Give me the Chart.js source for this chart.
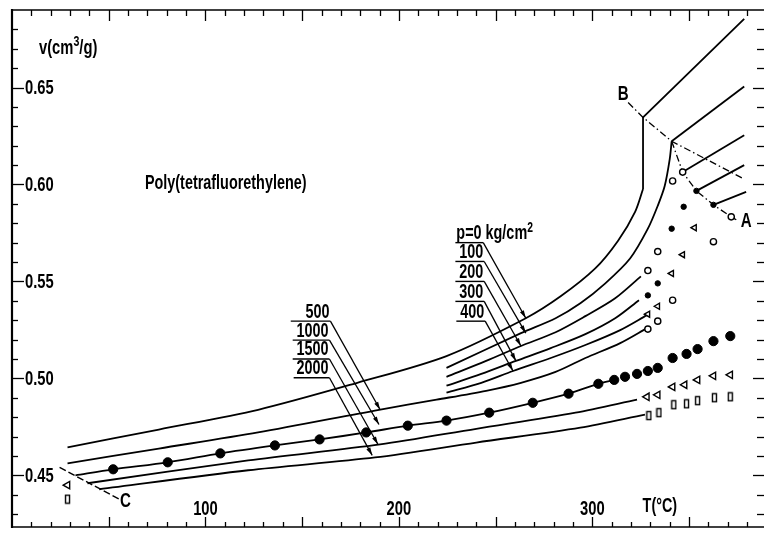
<!DOCTYPE html>
<html><head><meta charset="utf-8">
<script src="https://cdn.jsdelivr.net/npm/chart.js@4/dist/chart.umd.min.js"></script>
<style>html,body{margin:0;padding:0;background:#fff;}canvas{display:block;}</style>
</head><body>
<canvas id="c" width="768" height="533"></canvas>
<script>
// ---------------- DATA (T in °C, v in cm3/g) ----------------
const xTickLabels = ['100', '200', '300'];
const xTickValues = [100, 200, 300];
const yTickLabels = ['0.45', '0.50', '0.55', '0.60', '0.65'];
const yTickValues = [0.45, 0.50, 0.55, 0.60, 0.65];

// p = 0 kg/cm2 (solid state curve)
const p0T = [28.7, 75.9, 127.2, 178.5, 224.6, 265.6, 283.6, 301.5, 313.3, 322.1, 326.2];
const p0V = [0.4644, 0.4736, 0.4838, 0.4977, 0.5115, 0.5310, 0.5423, 0.5567, 0.5710, 0.5859, 0.5977];
const p0MeltT = [326.2, 326.2, 378.5];
const p0MeltV = [0.5977, 0.6346, 0.6854];

const p100T = [224.6, 263.1, 281.0, 293.8, 306.7, 319.5, 328.7, 333.8, 337.4, 340.0, 341.0];
const p100V = [0.5054, 0.5233, 0.5310, 0.5387, 0.5490, 0.5618, 0.5772, 0.5890, 0.5992, 0.6131, 0.6223];
const p100MeltT = [341.0, 378.5];
const p100MeltV = [0.6223, 0.6505];

const p200T = [224.6, 245.1, 263.1, 281.0, 296.4, 311.8, 325.1];
const p200V = [0.5008, 0.5090, 0.5167, 0.5238, 0.5321, 0.5413, 0.5526];
const p200MeltT = [346.7, 378.5];
const p200MeltV = [0.6064, 0.6254];

const p300T = [224.6, 242.6, 260.5, 278.5, 296.4, 311.8, 324.1];
const p300V = [0.4962, 0.5023, 0.5090, 0.5156, 0.5228, 0.5310, 0.5403];
const p300MeltT = [353.8, 378.5];
const p300MeltV = [0.5967, 0.6100];

const p400T = [224.6, 242.6, 259.0, 278.5, 296.4, 314.4, 328.2];
const p400V = [0.4926, 0.4977, 0.5038, 0.5105, 0.5172, 0.5249, 0.5326];
const p400MeltT = [362.6, 379.5];
const p400MeltV = [0.5895, 0.5962];

const p500T = [28.7, 75.9, 127.2, 189.7, 219.5, 245.1, 263.1, 281.0, 296.4, 314.4, 328.2];
const p500V = [0.4562, 0.4638, 0.4721, 0.4838, 0.4890, 0.4936, 0.4977, 0.5033, 0.5105, 0.5182, 0.5259];

const p1000LineT = [32.8, 52.3, 80.5, 107.7, 135.9, 159.0, 183.1, 204.6, 224.6, 246.7, 269.2, 287.7, 303.1, 311.3];
const p1000LineV = [0.4500, 0.4531, 0.4567, 0.4613, 0.4654, 0.4685, 0.4721, 0.4756, 0.4782, 0.4823, 0.4874, 0.4921, 0.4972, 0.4992];
const p1000DotT = [52.3, 80.5, 107.7, 135.9, 159.0, 183.1, 204.6, 224.6, 246.7, 269.2, 287.7, 303.1, 311.3, 316.9, 323.1, 328.7, 333.8, 341.5, 348.7, 354.4, 362.6, 371.3];
const p1000DotV = [0.4531, 0.4567, 0.4613, 0.4654, 0.4685, 0.4721, 0.4756, 0.4782, 0.4823, 0.4874, 0.4921, 0.4972, 0.4992, 0.5008, 0.5023, 0.5038, 0.5054, 0.5105, 0.5126, 0.5151, 0.5192, 0.5218];

const p1500T = [39.0, 122.1, 190.3, 240.0, 291.3, 323.1];
const p1500V = [0.4459, 0.4577, 0.4659, 0.4740, 0.4823, 0.4890];
const p1500PtT = [28.7, 328.2, 333.8, 341.5, 347.7, 354.4, 362.6, 371.3];
const p1500PtV = [0.4449, 0.4905, 0.4915, 0.4956, 0.4967, 0.4992, 0.5013, 0.5018];

const p2000T = [45.1, 122.1, 187.7, 240.0, 293.8, 327.2];
const p2000V = [0.4428, 0.4526, 0.4592, 0.4669, 0.4746, 0.4813];
const p2000PtT = [28.7, 329.2, 334.4, 342.1, 348.7, 354.4, 363.1, 371.3];
const p2000PtV = [0.4377, 0.4808, 0.4823, 0.4864, 0.4869, 0.4885, 0.4900, 0.4905];

// points near the melting region
const openCircT = [341.5, 333.8, 328.7, 341.5, 333.8, 328.7, 362.6, 346.7, 371.8];
const openCircV = [0.6018, 0.5654, 0.5556, 0.5403, 0.5295, 0.5254, 0.5705, 0.6064, 0.5833];
const smallDotT = [328.7, 333.8, 341.0, 347.2, 353.8, 362.6];
const smallDotV = [0.5428, 0.5490, 0.5772, 0.5885, 0.5967, 0.5895];
const smallTriT = [328.7, 333.8, 341.0, 346.7, 352.8];
const smallTriV = [0.5331, 0.5372, 0.5541, 0.5638, 0.5777];

// boundary lines A, B, C
const lineBT = [318.5, 326.2, 341.0, 378.5];
const lineBV = [0.6423, 0.6346, 0.6223, 0.6028];
const lineAT = [341.0, 346.7, 353.8, 362.6, 371.8, 374.4];
const lineAV = [0.6223, 0.6064, 0.5967, 0.5895, 0.5833, 0.5818];
const lineCT = [24.6, 55.4];
const lineCV = [0.4541, 0.4377];

// ---------------- annotation layout (data coords) ----------------
const upperLabels = [
  {t: 'p=0 kg/cm', sup: '2', left: 229.7, ul: [229.2, 243.6], v: 0.5700, tip: [265.6, 0.5310]},
  {t: '100', ul: [229.2, 244.1], v: 0.5603, tip: [265.6, 0.5233]},
  {t: '200', ul: [229.2, 244.1], v: 0.5500, tip: [263.1, 0.5167]},
  {t: '300', ul: [229.2, 244.1], v: 0.5397, tip: [260.5, 0.5090]},
  {t: '400', ul: [229.7, 244.6], v: 0.5295, tip: [259.0, 0.5038]}
];
const lowerLabels = [
  {t: '500', ul: [144.1, 164.6], v: 0.5295, tip: [190.3, 0.4838]},
  {t: '1000', ul: [145.1, 164.1], v: 0.5197, tip: [189.7, 0.4762]},
  {t: '1500', ul: [145.1, 164.1], v: 0.5100, tip: [189.2, 0.4659]},
  {t: '2000', ul: [145.6, 164.1], v: 0.5003, tip: [186.2, 0.4603]}
];

const pts = (T, V) => T.map((t, i) => ({x: t, y: V[i]}));
const FONT = '"Liberation Sans", Arial, sans-serif';
const SX = 0.72;

function rectImg() {
  const c = document.createElement('canvas');
  c.width = 7; c.height = 11;
  const g = c.getContext('2d');
  g.strokeStyle = '#000'; g.lineWidth = 1.4;
  g.strokeRect(1.5, 1.5, 4, 8);
  return c;
}

function lineDs(T, V, extra) {
  return Object.assign({data: pts(T, V), showLine: true, pointRadius: 0, borderColor: '#000',
    borderWidth: 1.8, tension: 0.3, fill: false, order: 2}, extra || {});
}
function markDs(T, V, extra) {
  return Object.assign({data: pts(T, V), showLine: false, borderColor: '#000',
    backgroundColor: '#000', order: 0}, extra || {});
}
const dashDot = {borderDash: [7, 3, 1.5, 3], borderWidth: 1.3, tension: 0};

function txt(ctx, s, x, y, align, size) {
  ctx.save();
  ctx.font = 'bold ' + (size || 20) + 'px ' + FONT;
  ctx.textAlign = align || 'left';
  ctx.textBaseline = 'middle';
  ctx.fillStyle = '#000';
  ctx.translate(x, y); ctx.scale(SX, 1);
  ctx.fillText(s, 0, 0);
  ctx.restore();
}
function rich(ctx, parts, x, y, size) {
  let cx = x;
  for (const p of parts) {
    const sz = p.sup ? size * 0.72 : size;
    ctx.save();
    ctx.font = 'bold ' + sz + 'px ' + FONT;
    ctx.textAlign = 'left'; ctx.textBaseline = 'middle'; ctx.fillStyle = '#000';
    ctx.translate(cx, y - (p.sup ? size * 0.3 : 0)); ctx.scale(SX, 1);
    ctx.fillText(p.t, 0, 0);
    const w = ctx.measureText(p.t).width * SX;
    ctx.restore();
    cx += w + (p.gap || 0);
  }
}
function seg(ctx, x0, y0, x1, y1, w) {
  ctx.beginPath(); ctx.lineWidth = w; ctx.moveTo(x0, y0); ctx.lineTo(x1, y1); ctx.stroke();
}
function arrow(ctx, x0, y0, x1, y1) {
  seg(ctx, x0, y0, x1, y1, 1.3);
  const a = Math.atan2(y1 - y0, x1 - x0), L = 8, W = 2.2;
  ctx.beginPath();
  ctx.moveTo(x1, y1);
  ctx.lineTo(x1 - L * Math.cos(a) + W * Math.sin(a), y1 - L * Math.sin(a) - W * Math.cos(a));
  ctx.lineTo(x1 - L * Math.cos(a) - W * Math.sin(a), y1 - L * Math.sin(a) + W * Math.cos(a));
  ctx.closePath(); ctx.fill();
}

const framePlugin = {
  id: 'frame',
  afterDatasetsDraw(chart) {
    const ctx = chart.ctx, a = chart.chartArea, xs = chart.scales.x, ys = chart.scales.y;
    const X = v => xs.getPixelForValue(v), Y = v => ys.getPixelForValue(v);
    ctx.save();
    ctx.strokeStyle = '#000'; ctx.fillStyle = '#000'; ctx.setLineDash([]);
    // frame (right edge lies just outside the picture)
    seg(ctx, a.left, a.top - 1, a.left, a.bottom + 1, 2.2);
    seg(ctx, a.left, a.top, a.right + 2, a.top, 1.6);
    seg(ctx, a.left, a.bottom, a.right + 2, a.bottom, 1.6);
    // x ticks (every 10, longer every 50)
    for (let k = 1; k * 10 < xs.max; k++) {
      const px = Math.round(X(k * 10)) + 0.5, L = (k % 5 === 0) ? 10 : 5;
      seg(ctx, px, a.bottom, px, a.bottom - L, 1.3);
      seg(ctx, px, a.top, px, a.top + L + 1, 1.3);
    }
    // y ticks (every 0.01, longer every 0.05)
    for (let k = 43; k <= 68; k++) {
      const py = Math.round(Y(k / 100)) + 0.5, major = (k % 5 === 0);
      seg(ctx, a.left, py, a.left + (major ? 12 : 6), py, 1.3);
      seg(ctx, a.right + 2, py, a.right - (major ? 9 : 5), py, 1.3);
    }
    // tick labels
    yTickValues.forEach((v, i) => txt(ctx, yTickLabels[i], a.left + 13, Y(v) + 1, 'left', 20.5));
    xTickValues.forEach((v, i) => txt(ctx, xTickLabels[i], X(v), a.bottom - 18, 'center', 20.5));
    // axis titles and labels
    rich(ctx, [{t: 'v(cm'}, {t: '3', sup: true}, {t: '/g)'}], a.left + 27, 48, 20.5);
    txt(ctx, 'T(°C)', X(334.9), a.bottom - 21, 'center', 20);
    txt(ctx, 'Poly(tetrafluorethylene)', X(68.7), Y(0.6003), 'left', 20);
    txt(ctx, 'B', X(315.9), Y(0.6464), 'center', 21);
    txt(ctx, 'A', X(379.6), Y(0.5813), 'center', 21);
    txt(ctx, 'C', X(58.7), Y(0.4367), 'center', 21);
    // pressure labels with leader arrows
    upperLabels.forEach(l => {
      const x0 = X(l.ul[0]), x1 = X(l.ul[1]), y = Y(l.v);
      seg(ctx, x0, y, x1, y, 1.4);
      if (l.sup) rich(ctx, [{t: l.t}, {t: l.sup, sup: true}], X(l.left), y - 9, 20);
      else txt(ctx, l.t, x1 - 1, y - 9, 'right', 20);
      arrow(ctx, x1, y, X(l.tip[0]), Y(l.tip[1]));
    });
    lowerLabels.forEach(l => {
      const x0 = X(l.ul[0]), x1 = X(l.ul[1]), y = Y(l.v);
      seg(ctx, x0, y, x1, y, 1.4);
      txt(ctx, l.t, x1 - 1, y - 9, 'right', 20);
      arrow(ctx, x1, y, X(l.tip[0]), Y(l.tip[1]));
    });
    ctx.restore();
  }
};

const triOpen = {pointStyle: 'triangle', rotation: -90, backgroundColor: '#fff', borderWidth: 1.4};

new Chart(document.getElementById('c'), {
  type: 'scatter',
  data: {datasets: [
    lineDs(p0T, p0V),
    lineDs(p0MeltT, p0MeltV, {tension: 0}),
    lineDs(p100T, p100V),
    lineDs(p100MeltT, p100MeltV, {tension: 0}),
    lineDs(p200T, p200V),
    lineDs(p200MeltT, p200MeltV, {tension: 0}),
    lineDs(p300T, p300V),
    lineDs(p300MeltT, p300MeltV, {tension: 0}),
    lineDs(p400T, p400V),
    lineDs(p400MeltT, p400MeltV, {tension: 0}),
    lineDs(p500T, p500V),
    lineDs(p1000LineT, p1000LineV),
    lineDs(p1500T, p1500V),
    lineDs(p2000T, p2000V),
    lineDs(lineBT, lineBV, dashDot),
    lineDs(lineAT, lineAV, dashDot),
    lineDs(lineCT, lineCV, {borderDash: [7, 3], borderWidth: 1.4, tension: 0}),
    markDs(p1000DotT, p1000DotV, {pointStyle: 'circle', pointRadius: 4.6}),
    markDs(p1500PtT, p1500PtV, Object.assign({pointRadius: 4.3}, triOpen)),
    markDs(p2000PtT, p2000PtV, {pointStyle: rectImg(), pointRadius: 5}),
    markDs(openCircT, openCircV, {pointStyle: 'circle', pointRadius: 3.1, backgroundColor: '#fff', borderWidth: 1.4}),
    markDs(smallDotT, smallDotV, {pointStyle: 'circle', pointRadius: 2.7}),
    markDs(smallTriT, smallTriV, Object.assign({pointRadius: 3.5}, triOpen))
  ]},
  options: {
    responsive: false,
    animation: false,
    layout: {padding: {left: 12, top: 10, right: 0, bottom: 3}},
    scales: {
      x: {type: 'linear', min: 0, max: 387.7, display: false},
      y: {type: 'linear', min: 0.42333, max: 0.69, display: false}
    },
    plugins: {legend: {display: false}, tooltip: {enabled: false}},
    events: []
  },
  plugins: [framePlugin]
});
</script>
</body></html>
